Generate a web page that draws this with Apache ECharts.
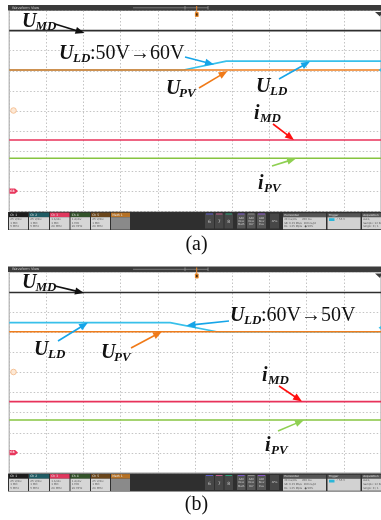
<!DOCTYPE html>
<html>
<head>
<meta charset="utf-8">
<script src="https://cdn.jsdelivr.net/npm/echarts@6/dist/echarts.min.js"></script>
<style>
  html, body { margin: 0; padding: 0; background: #ffffff; }
  #chart { width: 381px; height: 520px; }
</style>
</head>
<body>
<div id="chart"></div>
<script>
// Scope graticule: time in divisions (0..10), trace position in divisions from the bottom (0..10)
const graticule = [0, 10];

// (a) load voltage step U_LD: 50 V -> 60 V
const umdA = [[0, 9.0], [10, 9.0]];
const uldA = [[0, 7.04], [4.69, 7.04], [5.84, 7.48], [10, 7.48]];
const upvA = [[0, 7.04], [10, 7.04]];
const imdA = [[0, 3.56], [10, 3.56]];
const ipvA = [[0, 2.65], [10, 2.65]];

// (b) load voltage step U_LD: 60 V -> 50 V
const umdB = [[0, 8.98], [10, 8.98]];
const uldB = [[0, 7.48], [4.33, 7.48], [5.58, 7.03], [10, 7.03]];
const upvB = [[0, 7.03], [10, 7.03]];
const imdB = [[0, 3.55], [10, 3.55]];
const ipvB = [[0, 2.64], [10, 2.64]];

const captions = ['(a)', '(b)'];
const channelBoxes = ['Ch 1', 'Ch 2', 'Ch 3', 'Ch 4', 'Ch 5', 'Math 1'];
const channelSettings = [
  ['25 V/div', '1 MΩ', '5 MHz'],
  ['25 V/div', '1 MΩ', '5 MHz'],
  ['1 A/div', '1 MΩ', '20 MHz'],
  ['1 A/div', '1 MΩ', '20 MHz'],
  ['25 V/div', '1 MΩ', '20 MHz'],
  ['', '', '']
];

const COL = {
  umd: '#2e2e2e',
  uld: '#38c0ea',
  upv: '#ef7d1c',
  imd: '#e8325a',
  ipv: '#86c440'
};
const ARROW = {
  k: '#111111',
  c: '#16a5e8',
  o: '#f07a18',
  r: '#ff1010',
  g: '#8fd052'
};

const chart = echarts.init(document.getElementById('chart'), null, { renderer: 'canvas' });

const panels = [
  { top: 10.5, series: [umdA, uldA, upvA, imdA, ipvA] },
  { top: 272, series: [umdB, uldB, upvB, imdB, ipvB] }
];
const PLOT_LEFT = 9.2, PLOT_W = 375, PLOT_H = 201;

const grids = [], xAxes = [], yAxes = [], series = [];
const dotted = { show: true, lineStyle: { color: '#c4c4c4', type: [1.5, 2], width: 1 } };
panels.forEach((p, i) => {
  grids.push({ left: PLOT_LEFT, top: p.top, width: PLOT_W, height: PLOT_H,
    show: true, borderColor: '#9a9a9a', borderWidth: 1, backgroundColor: '#ffffff' });
  xAxes.push({ type: 'value', gridIndex: i, min: graticule[0], max: graticule[1], interval: 1,
    axisLine: { show: false }, axisTick: { show: false }, axisLabel: { show: false }, splitLine: dotted });
  yAxes.push({ type: 'value', gridIndex: i, min: graticule[0], max: graticule[1], interval: 1,
    axisLine: { show: false }, axisTick: { show: false }, axisLabel: { show: false }, splitLine: dotted });
  const [umd, uld, upv, imd, ipv] = p.series;
  const traces = [
    ['U_MD', umd, COL.umd], ['U_LD', uld, COL.uld], ['U_PV', upv, COL.upv],
    ['i_MD', imd, COL.imd], ['i_PV', ipv, COL.ipv]
  ];
  traces.forEach(([name, data, color], k) => {
    series.push({
      name, type: 'line', xAxisIndex: i, yAxisIndex: i, data,
      showSymbol: false, symbol: 'none', animation: false, silent: true,
      z: 3 + k,
      lineStyle: { color, width: 1.6 }
    });
  });
});

// ---- annotation helpers ----
function arrow(x1, y1, x2, y2, color) {
  const dx = x2 - x1, dy = y2 - y1, L = Math.hypot(dx, dy);
  const ux = dx / L, uy = dy / L, hl = 9, hw = 3.6;
  const bx = x2 - ux * hl, by = y2 - uy * hl;
  return [
    { type: 'line', silent: true, z: 20, shape: { x1, y1, x2: bx + ux, y2: by + uy },
      style: { stroke: color, lineWidth: 1.6 } },
    { type: 'polygon', silent: true, z: 20,
      shape: { points: [[x2, y2], [bx - uy * hw, by + ux * hw], [bx + uy * hw, by - ux * hw]] },
      style: { fill: color } }
  ];
}
function txt(x, y, text, font, fill, align) {
  return { type: 'text', silent: true, z: 21, x, y,
    style: { text, font, fill: fill || '#111', textAlign: align || 'left', textVerticalAlign: 'middle' } };
}
const F_MAIN = 'italic bold 20px "Liberation Serif", "Times New Roman", serif';
const F_SUB = 'italic bold 13px "Liberation Serif", "Times New Roman", serif';
const F_PLAIN = '20px "Liberation Serif", "Times New Roman", serif';
function symbol(x, y, main, sub, subDx, tail, tailDx) {
  const out = [txt(x, y, main, F_MAIN), txt(x + subDx, y + 5, sub, F_SUB)];
  if (tail) out.push(txt(x + tailDx, y, tail, F_PLAIN));
  return out;
}

// ---- scope chrome: title bar, status bar, markers ----
function chrome(top) {
  const els = [];
  const barTop = top - 5.5;
  els.push({ type: 'rect', silent: true, z: 10, shape: { x: 8, y: barTop, width: 380, height: 5.5 }, style: { fill: '#3b3b3b' } });
  els.push(txt(12, barTop + 2.8, 'Waveform View', '3.5px "DejaVu Sans", sans-serif', '#c8c8c8'));
  els.push({ type: 'line', silent: true, z: 11, shape: { x1: 133, y1: barTop + 2.8, x2: 208, y2: barTop + 2.8 }, style: { stroke: '#8a8a8a', lineWidth: 0.8 } });
  els.push({ type: 'line', silent: true, z: 11, shape: { x1: 185, y1: barTop + 1, x2: 185, y2: barTop + 4.6 }, style: { stroke: '#9a9a9a', lineWidth: 0.8 } });
  els.push({ type: 'line', silent: true, z: 11, shape: { x1: 208, y1: barTop + 1, x2: 208, y2: barTop + 4.6 }, style: { stroke: '#9a9a9a', lineWidth: 0.8 } });
  // trigger position marker
  els.push({ type: 'line', silent: true, z: 12, shape: { x1: 196.7, y1: barTop + 1, x2: 196.7, y2: top + 2 }, style: { stroke: '#f08a2a', lineWidth: 1 } });
  els.push({ type: 'rect', silent: true, z: 12, shape: { x: 194.9, y: top + 1.5, width: 3.8, height: 5, r: 0.8 }, style: { fill: '#e88a2e' } });
  els.push({ type: 'rect', silent: true, z: 13, shape: { x: 195.9, y: top + 2.8, width: 1.8, height: 2.4 }, style: { fill: '#4a2a0a' } });
  // top-right corner triangle
  els.push({ type: 'polygon', silent: true, z: 12, shape: { points: [[375, top + 1.5], [382, top + 1.5], [380, top + 6]] }, style: { fill: '#3a3a3a' } });
  // left-edge channel markers
  els.push({ type: 'circle', silent: true, z: 12, shape: { cx: 13.5, cy: top + 100, r: 2.8 }, style: { fill: '#fde9d6', stroke: '#f2b684', lineWidth: 0.8 } });
  els.push({ type: 'polygon', silent: true, z: 12, shape: { points: [[9.5, top + 178], [15, top + 178], [18, top + 180.6], [15, top + 183.2], [9.5, top + 183.2]] }, style: { fill: '#e8365c' } });
  els.push(txt(12.5, top + 180.6, 'C3', 'bold 3px "DejaVu Sans", sans-serif', '#ffffff', 'center'));
  // status bar
  const sb = top + PLOT_H + 0.5;
  const h = 18;
  els.push({ type: 'rect', silent: true, z: 10, shape: { x: 8, y: sb, width: 380, height: h }, style: { fill: '#2f2f2f' } });
  const boxX = [[9, 28], [29, 49], [50, 69.5], [70.5, 90], [91, 110], [111, 130]];
  const heads = ['#1c1c1c', '#1f5c64', '#e0385e', '#33532a', '#6a461c', '#b67226'];
  boxX.forEach(([a, b], k) => {
    els.push({ type: 'rect', silent: true, z: 11, shape: { x: a, y: sb + 0.6, width: b - a, height: 4.6 }, style: { fill: heads[k] } });
    els.push({ type: 'rect', silent: true, z: 11, shape: { x: a, y: sb + 5.2, width: b - a, height: 12.4 }, style: { fill: k === 5 ? '#8a8a8a' : '#d6d6d6' } });
    els.push(txt(a + 1.2, sb + 2.9, channelBoxes[k], '3px "DejaVu Sans", sans-serif', '#e6e6e6'));
    channelSettings[k].forEach((s, j) => {
      if (s) els.push(txt(a + 1.2, sb + 7.3 + j * 3.6, s, '2.8px "DejaVu Sans", sans-serif', '#5a5a5a'));
    });
  });
  const small = [[205, 214, '#5c5ccc', '6'], [215, 223.5, '#c25c8c', '7'], [224.5, 233, '#2aa37a', '8']];
  small.forEach(([a, b, c, t]) => {
    els.push({ type: 'rect', silent: true, z: 11, shape: { x: a, y: sb + 1.5, width: b - a, height: 15 }, style: { fill: '#474747' } });
    els.push({ type: 'rect', silent: true, z: 12, shape: { x: a + 1, y: sb + 1.5, width: b - a - 2, height: 1 }, style: { fill: c } });
    els.push(txt((a + b) / 2, sb + 10, t, '4.5px "DejaVu Sans", sans-serif', '#c8c8c8', 'center'));
  });
  const adds = [[237, 245.5, '#7a58c8', 'Math'], [247, 255.5, '#8a8a8a', 'Ref'], [257, 266, '#8a58c8', 'Bus']];
  adds.forEach(([a, b, c, t]) => {
    els.push({ type: 'rect', silent: true, z: 11, shape: { x: a, y: sb + 1.5, width: b - a, height: 15 }, style: { fill: '#565656' } });
    els.push({ type: 'rect', silent: true, z: 12, shape: { x: a + 1, y: sb + 1.5, width: b - a - 2, height: 1 }, style: { fill: c } });
    ['Add', 'New', t].forEach((w, j) => els.push(txt((a + b) / 2, sb + 6 + j * 3.3, w, '2.6px "DejaVu Sans", sans-serif', '#d0d0d0', 'center')));
  });
  els.push({ type: 'rect', silent: true, z: 11, shape: { x: 270, y: sb + 1.5, width: 9, height: 15 }, style: { fill: '#474747' } });
  els.push(txt(274.5, sb + 9, 'AFG', '2.8px "DejaVu Sans", sans-serif', '#c8c8c8', 'center'));
  const panelsR = [
    [283, 326, 'Horizontal', ['20 ms/div      200 ms', 'SR: 6.25 MS/s  160 ns/pt', 'RL: 1.25 Mpts   ● 50%']],
    [327.5, 360.5, 'Trigger', ['          ⁄  55 V', '', '']],
    [362, 384, 'Acquisition', ['Auto,', 'Sample: 12 bits', 'Single: 0 / 1']]
  ];
  panelsR.forEach(([a, b, head, lines]) => {
    els.push({ type: 'rect', silent: true, z: 11, shape: { x: a, y: sb + 1.2, width: b - a, height: 4 }, style: { fill: '#565656' } });
    els.push({ type: 'rect', silent: true, z: 11, shape: { x: a, y: sb + 5.2, width: b - a, height: 12 }, style: { fill: '#d2d2d2' } });
    els.push(txt(a + 1.2, sb + 3.2, head, '2.8px "DejaVu Sans", sans-serif', '#e0e0e0'));
    lines.forEach((s, j) => { if (s) els.push(txt(a + 1.2, sb + 7.3 + j * 3.6, s, '2.6px "DejaVu Sans", sans-serif', '#555555')); });
  });
  els.push({ type: 'rect', silent: true, z: 12, shape: { x: 329, y: sb + 6.2, width: 5.5, height: 2.8 }, style: { fill: '#2bb6d8' } });
  return els;
}

const elements = [];
elements.push(...chrome(panels[0].top), ...chrome(panels[1].top));

// right-edge U_LD level markers
elements.push({ type: 'polygon', silent: true, z: 12, shape: { points: [[378.5, 70], [382, 67.5], [382, 72.5]] }, style: { fill: '#38c0ea' } });
elements.push({ type: 'polygon', silent: true, z: 12, shape: { points: [[378.5, 327.7], [382, 325.2], [382, 330.2]] }, style: { fill: '#38c0ea' } });

// panel (a) annotations
elements.push(
  ...symbol(22, 21.5, 'U', 'MD', 13.5),
  ...arrow(55, 24, 84.5, 33, ARROW.k),
  ...symbol(59, 54, 'U', 'LD', 14, ':50V→60V', 31),
  ...arrow(185, 57, 214, 64.5, ARROW.c),
  ...symbol(166, 89, 'U', 'PV', 13),
  ...arrow(199, 88, 227.5, 71, ARROW.o),
  ...symbol(256, 87, 'U', 'LD', 14),
  ...arrow(279, 79, 310, 61.5, ARROW.c),
  ...symbol(254, 114, 'i', 'MD', 6),
  ...arrow(273, 124, 294, 140, ARROW.r),
  ...symbol(258, 184, 'i', 'PV', 6),
  ...arrow(272, 166, 296, 158.5, ARROW.g)
);

// panel (b) annotations
elements.push(
  ...symbol(22, 283, 'U', 'MD', 13.5),
  ...arrow(55, 286, 84, 293, ARROW.k),
  ...symbol(230, 315.5, 'U', 'LD', 14, ':60V→50V', 31),
  ...arrow(229, 321, 186.5, 325.5, ARROW.c),
  ...symbol(34, 350, 'U', 'LD', 14),
  ...arrow(58, 341, 88, 322.5, ARROW.c),
  ...symbol(101, 353, 'U', 'PV', 13),
  ...arrow(131, 348, 162, 331.5, ARROW.o),
  ...symbol(262, 376, 'i', 'MD', 6),
  ...arrow(279, 386, 302, 401.5, ARROW.r),
  ...symbol(265, 446, 'i', 'PV', 6),
  ...arrow(278, 431, 304, 420, ARROW.g)
);

// captions
elements.push(txt(196.5, 245, captions[0], '20px "Liberation Serif", "Times New Roman", serif', '#111', 'center'));
elements.push(txt(196.5, 505, captions[1], '20px "Liberation Serif", "Times New Roman", serif', '#111', 'center'));

chart.setOption({
  animation: false,
  backgroundColor: '#ffffff',
  grid: grids,
  xAxis: xAxes,
  yAxis: yAxes,
  series,
  graphic: { elements }
});
</script>
</body>
</html>
